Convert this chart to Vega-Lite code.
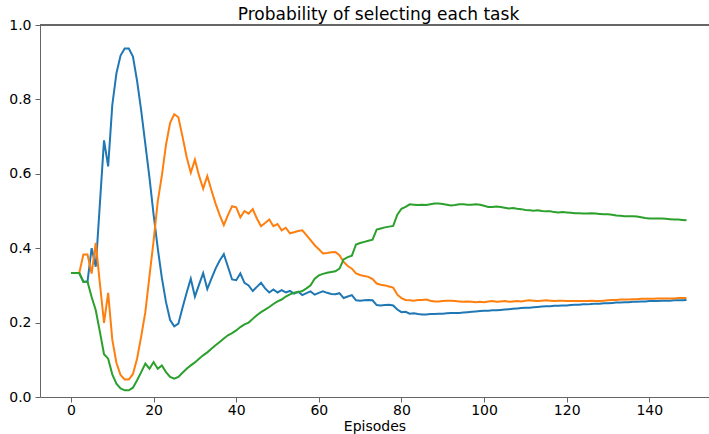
{
  "$schema": "https://vega.github.io/schema/vega-lite/v6.json",
  "width": 669,
  "height": 372,
  "autosize": {"type": "none"},
  "padding": {"left": 40, "top": 25, "right": 0, "bottom": 37},
  "background": "white",
  "config": {"font": "DejaVu Sans", "view": {"stroke": null}},
  "title": {"text": "Probability of selecting each task", "fontSize": 17, "fontWeight": "normal", "color": "#000000", "offset": -6, "dx": 4},
  "data": {"values": [
    {"e":0,"blue":0.333,"orange":0.333,"green":0.333},
    {"e":1,"blue":0.333,"orange":0.333,"green":0.333},
    {"e":2,"blue":0.333,"orange":0.333,"green":0.333},
    {"e":3,"blue":0.31,"orange":0.383,"green":0.31},
    {"e":4,"blue":0.31,"orange":0.383,"green":0.31},
    {"e":5,"blue":0.40,"orange":0.332,"green":0.269},
    {"e":6,"blue":0.35,"orange":0.414,"green":0.233},
    {"e":7,"blue":0.52,"orange":0.305,"green":0.175},
    {"e":8,"blue":0.69,"orange":0.199,"green":0.115},
    {"e":9,"blue":0.62,"orange":0.28,"green":0.103},
    {"e":10,"blue":0.785,"orange":0.154,"green":0.061},
    {"e":11,"blue":0.87,"orange":0.092,"green":0.036},
    {"e":12,"blue":0.918,"orange":0.059,"green":0.023},
    {"e":13,"blue":0.937,"orange":0.047,"green":0.018},
    {"e":14,"blue":0.937,"orange":0.047,"green":0.018},
    {"e":15,"blue":0.915,"orange":0.062,"green":0.025},
    {"e":16,"blue":0.85,"orange":0.103,"green":0.045},
    {"e":17,"blue":0.77,"orange":0.163,"green":0.067},
    {"e":18,"blue":0.68,"orange":0.228,"green":0.09},
    {"e":19,"blue":0.59,"orange":0.325,"green":0.076},
    {"e":20,"blue":0.49,"orange":0.42,"green":0.094},
    {"e":21,"blue":0.40,"orange":0.525,"green":0.076},
    {"e":22,"blue":0.32,"orange":0.595,"green":0.085},
    {"e":23,"blue":0.255,"orange":0.678,"green":0.067},
    {"e":24,"blue":0.207,"orange":0.737,"green":0.054},
    {"e":25,"blue":0.19,"orange":0.76,"green":0.049},
    {"e":26,"blue":0.197,"orange":0.752,"green":0.054},
    {"e":27,"blue":0.24,"orange":0.70,"green":0.065},
    {"e":28,"blue":0.28,"orange":0.645,"green":0.076},
    {"e":29,"blue":0.318,"orange":0.603,"green":0.085},
    {"e":30,"blue":0.27,"orange":0.638,"green":0.093},
    {"e":31,"blue":0.302,"orange":0.595,"green":0.103},
    {"e":32,"blue":0.333,"orange":0.56,"green":0.112},
    {"e":33,"blue":0.29,"orange":0.594,"green":0.12},
    {"e":34,"blue":0.318,"orange":0.556,"green":0.13},
    {"e":35,"blue":0.345,"orange":0.52,"green":0.139},
    {"e":36,"blue":0.367,"orange":0.489,"green":0.148},
    {"e":37,"blue":0.384,"orange":0.462,"green":0.157},
    {"e":38,"blue":0.35,"orange":0.489,"green":0.166},
    {"e":39,"blue":0.316,"orange":0.513,"green":0.172},
    {"e":40,"blue":0.314,"orange":0.51,"green":0.179},
    {"e":41,"blue":0.332,"orange":0.483,"green":0.188},
    {"e":42,"blue":0.307,"orange":0.50,"green":0.195},
    {"e":43,"blue":0.30,"orange":0.493,"green":0.20},
    {"e":44,"blue":0.285,"orange":0.505,"green":0.21},
    {"e":45,"blue":0.296,"orange":0.48,"green":0.22},
    {"e":46,"blue":0.307,"orange":0.459,"green":0.228},
    {"e":47,"blue":0.292,"orange":0.468,"green":0.235},
    {"e":48,"blue":0.281,"orange":0.477,"green":0.242},
    {"e":49,"blue":0.289,"orange":0.459,"green":0.25},
    {"e":50,"blue":0.281,"orange":0.465,"green":0.257},
    {"e":51,"blue":0.287,"orange":0.448,"green":0.262},
    {"e":52,"blue":0.281,"orange":0.455,"green":0.27},
    {"e":53,"blue":0.285,"orange":0.44,"green":0.276},
    {"e":54,"blue":0.278,"orange":0.443,"green":0.28},
    {"e":55,"blue":0.283,"orange":0.446,"green":0.282},
    {"e":56,"blue":0.274,"orange":0.448,"green":0.285},
    {"e":57,"blue":0.279,"orange":0.435,"green":0.292},
    {"e":58,"blue":0.284,"orange":0.422,"green":0.30},
    {"e":59,"blue":0.275,"orange":0.408,"green":0.318},
    {"e":60,"blue":0.28,"orange":0.397,"green":0.327},
    {"e":61,"blue":0.284,"orange":0.386,"green":0.331},
    {"e":62,"blue":0.28,"orange":0.387,"green":0.334},
    {"e":63,"blue":0.277,"orange":0.389,"green":0.336},
    {"e":64,"blue":0.276,"orange":0.39,"green":0.338},
    {"e":65,"blue":0.279,"orange":0.381,"green":0.345},
    {"e":66,"blue":0.266,"orange":0.363,"green":0.37},
    {"e":67,"blue":0.27,"orange":0.352,"green":0.376},
    {"e":68,"blue":0.274,"orange":0.345,"green":0.38},
    {"e":69,"blue":0.26,"orange":0.332,"green":0.41},
    {"e":70,"blue":0.259,"orange":0.328,"green":0.414},
    {"e":71,"blue":0.26,"orange":0.325,"green":0.417},
    {"e":72,"blue":0.261,"orange":0.323,"green":0.42},
    {"e":73,"blue":0.26,"orange":0.317,"green":0.423},
    {"e":74,"blue":0.247,"orange":0.305,"green":0.45},
    {"e":75,"blue":0.246,"orange":0.302,"green":0.453},
    {"e":76,"blue":0.247,"orange":0.30,"green":0.456},
    {"e":77,"blue":0.248,"orange":0.297,"green":0.458},
    {"e":78,"blue":0.246,"orange":0.294,"green":0.46},
    {"e":79,"blue":0.235,"orange":0.275,"green":0.49},
    {"e":80,"blue":0.228,"orange":0.266,"green":0.506},
    {"e":81,"blue":0.229,"orange":0.261,"green":0.511},
    {"e":82,"blue":0.224,"orange":0.26,"green":0.518},
    {"e":83,"blue":0.225,"orange":0.259,"green":0.517},
    {"e":84,"blue":0.223,"orange":0.261,"green":0.516},
    {"e":85,"blue":0.222,"orange":0.261,"green":0.517},
    {"e":86,"blue":0.222,"orange":0.262,"green":0.516},
    {"e":87,"blue":0.223,"orange":0.259,"green":0.518},
    {"e":88,"blue":0.223,"orange":0.257,"green":0.52},
    {"e":89,"blue":0.224,"orange":0.257,"green":0.52},
    {"e":90,"blue":0.224,"orange":0.258,"green":0.519},
    {"e":91,"blue":0.225,"orange":0.259,"green":0.517},
    {"e":92,"blue":0.226,"orange":0.259,"green":0.515},
    {"e":93,"blue":0.226,"orange":0.258,"green":0.516},
    {"e":94,"blue":0.226,"orange":0.257,"green":0.518},
    {"e":95,"blue":0.227,"orange":0.256,"green":0.518},
    {"e":96,"blue":0.228,"orange":0.257,"green":0.517},
    {"e":97,"blue":0.229,"orange":0.256,"green":0.517},
    {"e":98,"blue":0.23,"orange":0.255,"green":0.518},
    {"e":99,"blue":0.231,"orange":0.256,"green":0.517},
    {"e":100,"blue":0.232,"orange":0.255,"green":0.514},
    {"e":101,"blue":0.232,"orange":0.257,"green":0.511},
    {"e":102,"blue":0.233,"orange":0.258,"green":0.511},
    {"e":103,"blue":0.233,"orange":0.256,"green":0.512},
    {"e":104,"blue":0.234,"orange":0.257,"green":0.511},
    {"e":105,"blue":0.235,"orange":0.258,"green":0.509},
    {"e":106,"blue":0.236,"orange":0.256,"green":0.507},
    {"e":107,"blue":0.237,"orange":0.257,"green":0.508},
    {"e":108,"blue":0.238,"orange":0.258,"green":0.506},
    {"e":109,"blue":0.239,"orange":0.257,"green":0.505},
    {"e":110,"blue":0.24,"orange":0.259,"green":0.503},
    {"e":111,"blue":0.24,"orange":0.26,"green":0.502},
    {"e":112,"blue":0.241,"orange":0.259,"green":0.501},
    {"e":113,"blue":0.242,"orange":0.258,"green":0.502},
    {"e":114,"blue":0.243,"orange":0.259,"green":0.5},
    {"e":115,"blue":0.244,"orange":0.26,"green":0.499},
    {"e":116,"blue":0.244,"orange":0.259,"green":0.499},
    {"e":117,"blue":0.245,"orange":0.258,"green":0.497},
    {"e":118,"blue":0.245,"orange":0.259,"green":0.496},
    {"e":119,"blue":0.246,"orange":0.259,"green":0.497},
    {"e":120,"blue":0.246,"orange":0.258,"green":0.496},
    {"e":121,"blue":0.247,"orange":0.258,"green":0.495},
    {"e":122,"blue":0.248,"orange":0.258,"green":0.494},
    {"e":123,"blue":0.248,"orange":0.258,"green":0.494},
    {"e":124,"blue":0.249,"orange":0.258,"green":0.493},
    {"e":125,"blue":0.249,"orange":0.258,"green":0.493},
    {"e":126,"blue":0.25,"orange":0.259,"green":0.494},
    {"e":127,"blue":0.251,"orange":0.258,"green":0.493},
    {"e":128,"blue":0.251,"orange":0.258,"green":0.492},
    {"e":129,"blue":0.252,"orange":0.259,"green":0.491},
    {"e":130,"blue":0.252,"orange":0.26,"green":0.491},
    {"e":131,"blue":0.253,"orange":0.261,"green":0.49},
    {"e":132,"blue":0.254,"orange":0.261,"green":0.488},
    {"e":133,"blue":0.254,"orange":0.262,"green":0.487},
    {"e":134,"blue":0.255,"orange":0.262,"green":0.486},
    {"e":135,"blue":0.255,"orange":0.262,"green":0.486},
    {"e":136,"blue":0.256,"orange":0.263,"green":0.486},
    {"e":137,"blue":0.256,"orange":0.263,"green":0.485},
    {"e":138,"blue":0.257,"orange":0.264,"green":0.483},
    {"e":139,"blue":0.257,"orange":0.264,"green":0.481},
    {"e":140,"blue":0.258,"orange":0.264,"green":0.48},
    {"e":141,"blue":0.258,"orange":0.264,"green":0.48},
    {"e":142,"blue":0.258,"orange":0.265,"green":0.48},
    {"e":143,"blue":0.259,"orange":0.265,"green":0.48},
    {"e":144,"blue":0.259,"orange":0.265,"green":0.479},
    {"e":145,"blue":0.259,"orange":0.265,"green":0.478},
    {"e":146,"blue":0.26,"orange":0.265,"green":0.477},
    {"e":147,"blue":0.26,"orange":0.266,"green":0.477},
    {"e":148,"blue":0.26,"orange":0.266,"green":0.476},
    {"e":149,"blue":0.261,"orange":0.266,"green":0.475}
  ]},
  "layer": [
    {
      "transform": [{"fold": ["blue", "orange", "green"], "as": ["task", "p"]}],
      "mark": {"type": "line", "strokeWidth": 2},
      "encoding": {
        "x": {"field": "e", "type": "quantitative",
          "scale": {"domain": [-7.5, 154.45], "nice": false, "zero": false},
          "axis": {"values": [0, 20, 40, 60, 80, 100, 120, 140], "title": "Episodes", "grid": false,
            "labelFontSize": 14, "labelColor": "#000000", "labelPadding": 1, "labelFlush": false,
            "tickSize": 5, "tickColor": "#666666", "domainColor": "#666666",
            "titleFontSize": 14, "titleFontWeight": "normal", "titleColor": "#000000", "titlePadding": 2}},
        "y": {"field": "p", "type": "quantitative",
          "scale": {"domain": [0, 1], "nice": false, "zero": true},
          "axis": {"values": [0, 0.2, 0.4, 0.6, 0.8, 1.0], "format": ".1f", "title": null, "grid": false,
            "labelFontSize": 14, "labelColor": "#000000", "labelPadding": 4, "labelFlush": false,
            "tickSize": 5, "tickColor": "#666666", "domainColor": "#666666"}},
        "color": {"field": "task", "type": "nominal",
          "scale": {"domain": ["blue", "orange", "green"], "range": ["#1f77b4", "#ff7f0e", "#2ca02c"]},
          "legend": null}
      }
    },
    {
      "mark": {"type": "rule", "color": "#666666", "strokeWidth": 1},
      "encoding": {"y": {"datum": 1}}
    }
  ]
}
